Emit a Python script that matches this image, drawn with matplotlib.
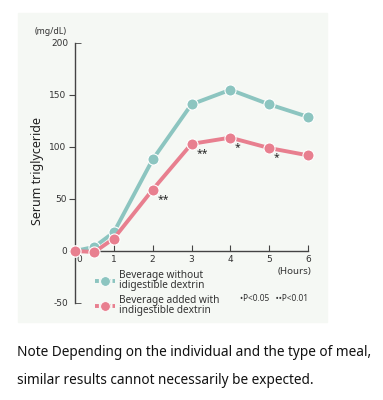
import matplotlib.pyplot as plt
from matplotlib.patches import Rectangle
from matplotlib.lines import Line2D

hours = [0, 0.5, 1, 2, 3, 4, 5, 6]
without_dextrin = [0, 4, 18, 88, 141, 155, 141, 129]
with_dextrin = [0, -1, 12, 59, 103, 109, 99, 92]
marks = {2: "**", 3: "**", 4: "*", 5: "*"}

teal = "#8cc5c0"
pink = "#e87f8f"
dark = "#444444"

plt.rcParams['font.family'] = ['Noto Sans', 'DejaVu Sans']

fig = plt.figure(figsize=(3.83, 4.0), dpi=100)
# light panel behind the chart
fig.patches.append(Rectangle((18 / 383, 1 - 322 / 400), 309 / 383, 309 / 400,
                             transform=fig.transFigure, color="#f5f8f4", zorder=-5))

ax = fig.add_axes([75 / 383, 1 - 303 / 400, 233 / 383, 260 / 400])
ax.set_zorder(2)
ax.set_facecolor("none")
ax.set_xlim(0, 6)
ax.set_ylim(-50, 200)

ax.plot(hours, without_dextrin, color=teal, lw=2.8, marker="o", ms=8,
        mec="white", mew=0.8, clip_on=False, zorder=3)
ax.plot(hours, with_dextrin, color=pink, lw=2.8, marker="o", ms=8,
        mec="white", mew=0.8, clip_on=False, zorder=4)

for i, h in enumerate(hours):
    if h in marks:
        ax.text(h + 0.12, with_dextrin[i] - 4, marks[h], fontsize=7.5, color="#222222",
                ha="left", va="top", fontweight="bold")

for s in ["top", "right"]:
    ax.spines[s].set_visible(False)
ax.spines["bottom"].set_position(("data", 0))
ax.spines["left"].set_color(dark)
ax.spines["bottom"].set_color(dark)
ax.spines["left"].set_linewidth(1.0)
ax.spines["bottom"].set_linewidth(1.0)

tick_font = {"family": "DejaVu Sans", "size": 6.5, "color": "#333333"}
ax.set_yticks([0, 50, 100, 150])
ax.set_yticklabels(["0", "50", "100", "150"], fontdict=tick_font)
ax.set_yticks([-50, 200], minor=True)
ax.set_yticklabels(["-50", "200"], minor=True, fontdict=tick_font)
ax.tick_params(axis="y", which="major", direction="out", length=4, color=dark, pad=2)
ax.tick_params(axis="y", which="minor", direction="in", length=4, color=dark, pad=5)
ax.set_xticks([1, 2, 3, 4, 5, 6])
ax.set_xticklabels(["1", "2", "3", "4", "5", "6"], fontdict=tick_font)
ax.tick_params(axis="x", direction="in", length=4, color=dark, pad=3)
ax.text(0.12, -4, "0", fontdict=tick_font, ha="center", va="top")

ax.text(-0.62, 211, "(mg/dL)", fontsize=6.3, color="#333333", ha="center", va="center")
ax.text(5.65, -20, "(Hours)", fontsize=7, color="#333333", ha="center", va="center")
fig.text(37 / 383, 1 - 171 / 400, "Serum triglyceride", rotation=90, fontsize=9,
         color="#222222", ha="center", va="center")

handles = [Line2D([], [], color=teal, lw=2.8, ls=(0, (1.0, 0.5)), marker="o", ms=7,
                  mec="white", mew=0.6),
           Line2D([], [], color=pink, lw=2.8, ls=(0, (1.0, 0.5)), marker="o", ms=7,
                  mec="white", mew=0.6)]
leg = ax.legend(handles, ["Beverage without\nidigestible dextrin",
                          "Beverage added with\nindigestible dextrin"],
                loc="upper left", bbox_to_anchor=(0.085, 0.128), frameon=False,
                fontsize=7.3, handlelength=2.0, handletextpad=0.35, labelspacing=0.45,
                labelcolor="#333333", borderaxespad=0, borderpad=0)
for t in leg.get_texts():
    t.set_linespacing(0.85)
ax.text(5.12, -46, "\u2022P<0.05   \u2022\u2022P<0.01", fontsize=6, color="#333333",
        ha="center", va="center")

fig.text(17 / 383, 1 - 352 / 400, "Note Depending on the individual and the type of meal,",
         fontsize=9.8, color="#111111", ha="left", va="center")
fig.text(17 / 383, 1 - 380 / 400, "similar results cannot necessarily be expected.",
         fontsize=9.8, color="#111111", ha="left", va="center")

fig.savefig("out.png", dpi=100)
